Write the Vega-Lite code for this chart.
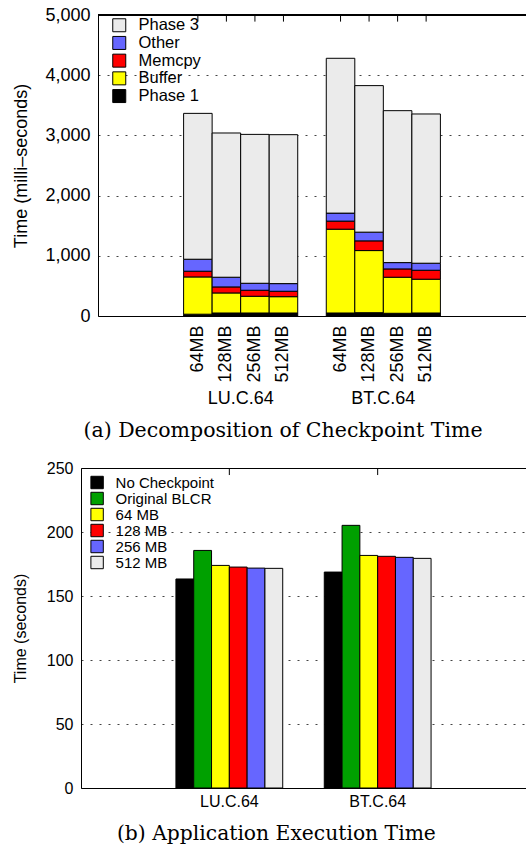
{
  "$schema": "https://vega.github.io/schema/vega-lite/v6.json",
  "padding": {"left": 12, "top": 6, "right": 0, "bottom": 0},
  "autosize": {"type": "pad"},
  "spacing": 18,
  "resolve": {"scale": {"color": "independent"}, "legend": {"color": "independent"}},
  "config": {
    "font": "Liberation Sans",
    "view": {"stroke": null},
    "axis": {
      "labelColor": "black",
      "titleColor": "black",
      "labelFont": "Liberation Sans",
      "titleFont": "Liberation Sans",
      "titleFontWeight": "normal",
      "domainColor": "black",
      "domainWidth": 1
    },
    "legend": {
      "labelFont": "Liberation Sans",
      "labelColor": "black",
      "symbolType": "square",
      "symbolStrokeColor": "black",
      "symbolStrokeWidth": 1,
      "symbolOpacity": 1
    },
    "title": {"font": "DejaVu Serif", "fontWeight": "normal", "color": "black"}
  },
  "vconcat": [
    {
      "width": 428,
      "height": 301,
      "title": {"text": "(a) Decomposition of Checkpoint Time", "orient": "bottom", "anchor": "middle", "dx": -29, "offset": 14, "fontSize": 20.5},
      "data": {"values": [
        {"app": "LU.C.64", "buf": "64MB", "run": "LU.C.64 64MB", "phase": "Phase 1", "ms": 30},
        {"app": "LU.C.64", "buf": "64MB", "run": "LU.C.64 64MB", "phase": "Buffer", "ms": 619},
        {"app": "LU.C.64", "buf": "64MB", "run": "LU.C.64 64MB", "phase": "Memcpy", "ms": 95},
        {"app": "LU.C.64", "buf": "64MB", "run": "LU.C.64 64MB", "phase": "Other", "ms": 199},
        {"app": "LU.C.64", "buf": "64MB", "run": "LU.C.64 64MB", "phase": "Phase 3", "ms": 2423},
        {"app": "LU.C.64", "buf": "128MB", "run": "LU.C.64 128MB", "phase": "Phase 1", "ms": 50},
        {"app": "LU.C.64", "buf": "128MB", "run": "LU.C.64 128MB", "phase": "Buffer", "ms": 333},
        {"app": "LU.C.64", "buf": "128MB", "run": "LU.C.64 128MB", "phase": "Memcpy", "ms": 100},
        {"app": "LU.C.64", "buf": "128MB", "run": "LU.C.64 128MB", "phase": "Other", "ms": 161},
        {"app": "LU.C.64", "buf": "128MB", "run": "LU.C.64 128MB", "phase": "Phase 3", "ms": 2396},
        {"app": "LU.C.64", "buf": "256MB", "run": "LU.C.64 256MB", "phase": "Phase 1", "ms": 50},
        {"app": "LU.C.64", "buf": "256MB", "run": "LU.C.64 256MB", "phase": "Buffer", "ms": 278},
        {"app": "LU.C.64", "buf": "256MB", "run": "LU.C.64 256MB", "phase": "Memcpy", "ms": 100},
        {"app": "LU.C.64", "buf": "256MB", "run": "LU.C.64 256MB", "phase": "Other", "ms": 116},
        {"app": "LU.C.64", "buf": "256MB", "run": "LU.C.64 256MB", "phase": "Phase 3", "ms": 2473},
        {"app": "LU.C.64", "buf": "512MB", "run": "LU.C.64 512MB", "phase": "Phase 1", "ms": 50},
        {"app": "LU.C.64", "buf": "512MB", "run": "LU.C.64 512MB", "phase": "Buffer", "ms": 271},
        {"app": "LU.C.64", "buf": "512MB", "run": "LU.C.64 512MB", "phase": "Memcpy", "ms": 90},
        {"app": "LU.C.64", "buf": "512MB", "run": "LU.C.64 512MB", "phase": "Other", "ms": 127},
        {"app": "LU.C.64", "buf": "512MB", "run": "LU.C.64 512MB", "phase": "Phase 3", "ms": 2474},
        {"app": "BT.C.64", "buf": "64MB", "run": "BT.C.64 64MB", "phase": "Phase 1", "ms": 50},
        {"app": "BT.C.64", "buf": "64MB", "run": "BT.C.64 64MB", "phase": "Buffer", "ms": 1392},
        {"app": "BT.C.64", "buf": "64MB", "run": "BT.C.64 64MB", "phase": "Memcpy", "ms": 134},
        {"app": "BT.C.64", "buf": "64MB", "run": "BT.C.64 64MB", "phase": "Other", "ms": 133},
        {"app": "BT.C.64", "buf": "64MB", "run": "BT.C.64 64MB", "phase": "Phase 3", "ms": 2572},
        {"app": "BT.C.64", "buf": "128MB", "run": "BT.C.64 128MB", "phase": "Phase 1", "ms": 55},
        {"app": "BT.C.64", "buf": "128MB", "run": "BT.C.64 128MB", "phase": "Buffer", "ms": 1032},
        {"app": "BT.C.64", "buf": "128MB", "run": "BT.C.64 128MB", "phase": "Memcpy", "ms": 161},
        {"app": "BT.C.64", "buf": "128MB", "run": "BT.C.64 128MB", "phase": "Other", "ms": 145},
        {"app": "BT.C.64", "buf": "128MB", "run": "BT.C.64 128MB", "phase": "Phase 3", "ms": 2434},
        {"app": "BT.C.64", "buf": "256MB", "run": "BT.C.64 256MB", "phase": "Phase 1", "ms": 45},
        {"app": "BT.C.64", "buf": "256MB", "run": "BT.C.64 256MB", "phase": "Buffer", "ms": 599},
        {"app": "BT.C.64", "buf": "256MB", "run": "BT.C.64 256MB", "phase": "Memcpy", "ms": 138},
        {"app": "BT.C.64", "buf": "256MB", "run": "BT.C.64 256MB", "phase": "Other", "ms": 105},
        {"app": "BT.C.64", "buf": "256MB", "run": "BT.C.64 256MB", "phase": "Phase 3", "ms": 2524},
        {"app": "BT.C.64", "buf": "512MB", "run": "BT.C.64 512MB", "phase": "Phase 1", "ms": 50},
        {"app": "BT.C.64", "buf": "512MB", "run": "BT.C.64 512MB", "phase": "Buffer", "ms": 561},
        {"app": "BT.C.64", "buf": "512MB", "run": "BT.C.64 512MB", "phase": "Memcpy", "ms": 149},
        {"app": "BT.C.64", "buf": "512MB", "run": "BT.C.64 512MB", "phase": "Other", "ms": 117},
        {"app": "BT.C.64", "buf": "512MB", "run": "BT.C.64 512MB", "phase": "Phase 3", "ms": 2479}
      ]},
      "layer": [
        {
          "mark": {"type": "bar", "stroke": "black", "strokeWidth": 1},
          "transform": [{"calculate": "indexof(['Phase 1','Buffer','Memcpy','Other','Phase 3'], datum.phase)", "as": "stack_rank"}],
          "encoding": {
            "x": {
              "field": "run", "type": "nominal",
              "scale": {"domain": ["gap0", "gap1", "gap2", "LU.C.64 64MB", "LU.C.64 128MB", "LU.C.64 256MB", "LU.C.64 512MB", "gap7", "BT.C.64 64MB", "BT.C.64 128MB", "BT.C.64 256MB", "BT.C.64 512MB", "gap12", "gap13", "gap14"], "paddingInner": 0, "paddingOuter": 0},
              "axis": {"orient": "bottom", "title": null, "labelExpr": "indexof(datum.value, ' ') > 0 ? split(datum.value, ' ')[1] : ''", "labelAngle": -90, "labelAlign": "right", "labelBaseline": "middle", "labelFontSize": 18, "labelPadding": 9, "labelOverlap": false, "ticks": false, "tickSize": 0, "domain": true}
            },
            "y": {
              "field": "ms", "type": "quantitative", "stack": "zero",
              "scale": {"domain": [0, 5000], "nice": false},
              "axis": {"title": "Time (milli–seconds)", "values": [0, 1000, 2000, 3000, 4000, 5000], "labelExpr": "format(datum.value, ',')", "labelFontSize": 18, "titleFontSize": 18, "titlePadding": 14.5, "labelPadding": 8, "ticks": false, "grid": true, "gridDash": [2, 7], "gridColor": "#444444", "gridWidth": 1}
            },
            "color": {
              "field": "phase", "type": "nominal",
              "scale": {"domain": ["Phase 3", "Other", "Memcpy", "Buffer", "Phase 1"], "range": ["#ebebeb", "#6666ff", "#ff0000", "#ffff00", "#000000"]},
              "legend": {"title": null, "orient": "none", "legendX": 13, "legendY": 2, "symbolSize": 169, "labelFontSize": 16.5, "rowPadding": -0.3, "labelOffset": 11}
            },
            "order": {"field": "stack_rank", "type": "quantitative"}
          }
        },
        {
          "mark": {"type": "rule", "color": "black", "strokeWidth": 1},
          "transform": [{"filter": "datum.phase == 'Phase 1'"}],
          "encoding": {
            "x": {
              "field": "run", "type": "nominal",
              "axis": {"orient": "bottom", "title": null, "labelExpr": "datum.value == 'LU.C.64 128MB' ? 'LU.C.64' : (datum.value == 'BT.C.64 128MB' ? 'BT.C.64' : '')", "labelOffset": 14.3, "labelAngle": 0, "labelAlign": "center", "labelBaseline": "top", "labelFontSize": 18, "labelPadding": 73, "labelOverlap": false, "ticks": false, "tickSize": 0, "domain": false}
            },
            "y": {
              "datum": 5000, "type": "quantitative",
              "axis": {"title": "Time (milli–seconds)", "values": [0, 1000, 2000, 3000, 4000, 5000], "labelExpr": "format(datum.value, ',')", "labelFontSize": 18, "titleFontSize": 18, "titlePadding": 14.5, "labelPadding": 8, "ticks": false, "grid": true, "gridDash": [2, 7], "gridColor": "#444444", "gridWidth": 1}
            },
            "y2": {"datum": 4890}
          }
        },
        {
          "mark": {"type": "rule", "color": "black", "strokeWidth": 1},
          "encoding": {
            "y": {
              "datum": 5000, "type": "quantitative",
              "axis": {"title": "Time (milli–seconds)", "values": [0, 1000, 2000, 3000, 4000, 5000], "labelExpr": "format(datum.value, ',')", "labelFontSize": 18, "titleFontSize": 18, "titlePadding": 14.5, "labelPadding": 8, "ticks": false, "grid": true, "gridDash": [2, 7], "gridColor": "#444444", "gridWidth": 1}
            }
          }
        }
      ],
      "resolve": {"axis": {"x": "independent"}}
    },
    {
      "width": 428,
      "height": 320,
      "title": {"text": "(b) Application Execution Time", "orient": "bottom", "anchor": "middle", "dx": -35.6, "offset": 15, "fontSize": 20.3},
      "data": {"values": [
        {"app": "LU.C.64", "config": "No Checkpoint", "sec": 163.3},
        {"app": "LU.C.64", "config": "Original BLCR", "sec": 185.6},
        {"app": "LU.C.64", "config": "64 MB", "sec": 173.9},
        {"app": "LU.C.64", "config": "128 MB", "sec": 172.6},
        {"app": "LU.C.64", "config": "256 MB", "sec": 171.8},
        {"app": "LU.C.64", "config": "512 MB", "sec": 171.6},
        {"app": "BT.C.64", "config": "No Checkpoint", "sec": 168.7},
        {"app": "BT.C.64", "config": "Original BLCR", "sec": 205.2},
        {"app": "BT.C.64", "config": "64 MB", "sec": 181.7},
        {"app": "BT.C.64", "config": "128 MB", "sec": 181.0},
        {"app": "BT.C.64", "config": "256 MB", "sec": 180.2},
        {"app": "BT.C.64", "config": "512 MB", "sec": 179.4}
      ]},
      "layer": [
        {
          "mark": {"type": "bar", "stroke": "black", "strokeWidth": 1},
          "encoding": {
            "x": {
              "field": "app", "type": "nominal",
              "scale": {"domain": ["LU.C.64", "BT.C.64"], "range": [-17, 428], "paddingInner": 0.28, "paddingOuter": 0.64},
              "axis": {"orient": "bottom", "title": null, "labelAngle": 0, "labelFontSize": 16, "labelPadding": 5, "ticks": false, "tickSize": 0}
            },
            "xOffset": {
              "field": "config", "type": "nominal",
              "scale": {"domain": ["No Checkpoint", "Original BLCR", "64 MB", "128 MB", "256 MB", "512 MB"], "paddingInner": 0, "paddingOuter": 0}
            },
            "y": {
              "field": "sec", "type": "quantitative",
              "scale": {"domain": [0, 250], "nice": false},
              "axis": {"title": "Time (seconds)", "values": [0, 50, 100, 150, 200, 250], "offset": 17, "labelFontSize": 16, "titleFontSize": 16, "titlePadding": 18, "labelPadding": 8, "ticks": false, "grid": true, "gridDash": [2, 7], "gridColor": "#444444", "gridWidth": 1}
            },
            "color": {
              "field": "config", "type": "nominal",
              "scale": {"domain": ["No Checkpoint", "Original BLCR", "64 MB", "128 MB", "256 MB", "512 MB"], "range": ["#000000", "#00a000", "#ffff00", "#ff0000", "#6666ff", "#ebebeb"]},
              "legend": {"title": null, "orient": "none", "legendX": -8.4, "legendY": 7, "symbolSize": 154, "labelFontSize": 15, "rowPadding": -1.7, "labelOffset": 11,
                "labelExpr": "indexof(['128 MB','256 MB','512 MB'], datum.label) >= 0 ? '\u00a0' + datum.label : datum.label"}
            }
          }
        },
        {
          "mark": {"type": "rule", "color": "black", "strokeWidth": 1},
          "transform": [{"filter": "datum.config == 'No Checkpoint'"}],
          "encoding": {
            "x": {
              "field": "app", "type": "nominal",
              "axis": {"orient": "top", "title": null, "labels": false, "ticks": false, "tickSize": 0, "domain": true, "grid": false}
            },
            "y": {
              "datum": 250, "type": "quantitative",
              "axis": {"title": "Time (seconds)", "values": [0, 50, 100, 150, 200, 250], "offset": 17, "labelFontSize": 16, "titleFontSize": 16, "titlePadding": 18, "labelPadding": 8, "ticks": false, "grid": true, "gridDash": [2, 7], "gridColor": "#444444", "gridWidth": 1}
            },
            "y2": {"datum": 244.5}
          }
        }
      ],
      "resolve": {"axis": {"x": "independent"}}
    }
  ]
}
